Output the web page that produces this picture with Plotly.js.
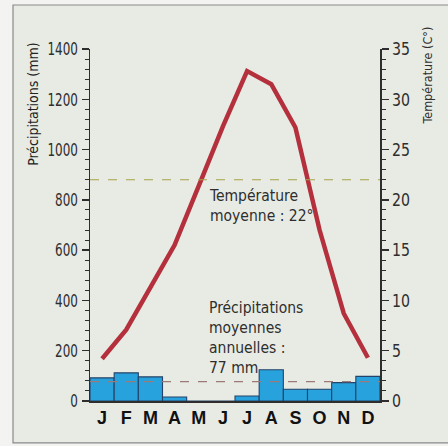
<!DOCTYPE html>
<html>
<head>
<meta charset="utf-8">
<script src="https://cdn.plot.ly/plotly-3.0.1.min.js"></script>
<style>html,body{margin:0;padding:0;background:#f3f4f1;}#chart{width:448px;height:446px;}</style>
</head>
<body>
<div id="chart"></div>
<script>
// Data
const months = ['J','F','M','A','M','J','J','A','S','O','N','D'];
const precipitation = [92, 112, 96, 16, 0, 0, 20, 124, 47, 47, 73, 98];   // mm
const temperature = [4.2, 7.1, 11.3, 15.5, 21.4, 27.3, 32.8, 31.5, 27.2, 17.0, 8.7, 4.3]; // °C
const meanTemperature = 22;
const meanPrecipitation = 77;
const precipTicks = [0, 200, 400, 600, 800, 1000, 1200, 1400];
const tempTicks = [0, 5, 10, 15, 20, 25, 30, 35];

const xIdx = months.map((m, i) => i);
const narrow = '"DejaVu Sans", sans-serif';
const ink = '#2e2e2e';

const traces = [
  {
    type: 'bar', x: xIdx, y: precipitation, yaxis: 'y', width: 1,
    marker: {color: '#27a2dc', line: {color: '#24436a', width: 1.1}},
    hoverinfo: 'skip'
  },
  {
    type: 'scatter', mode: 'lines', x: xIdx, y: temperature, yaxis: 'y2',
    line: {color: '#b5303d', width: 4.5}, hoverinfo: 'skip'
  },
  {
    type: 'scatter', mode: 'lines', x: [-0.5, 11.5], y: [meanTemperature, meanTemperature], yaxis: 'y2',
    line: {color: '#a8a24a', width: 1.2, dash: 'dash'}, hoverinfo: 'skip'
  },
  {
    type: 'scatter', mode: 'lines', x: [-0.5, 11.5], y: [meanPrecipitation, meanPrecipitation], yaxis: 'y',
    line: {color: '#9c7a78', width: 1.2, dash: 'dash'}, hoverinfo: 'skip'
  }
];

const layout = {
  width: 448, height: 446,
  margin: {l: 90, r: 68, t: 49, b: 45},
  paper_bgcolor: '#f3f4f1',
  plot_bgcolor: 'rgba(0,0,0,0)',
  showlegend: false,
  bargap: 0,
  xaxis: {
    range: [-0.5, 11.5], tickvals: xIdx, ticktext: months,
    showgrid: false, zeroline: false, showline: true, linecolor: ink, linewidth: 1.5,
    ticks: '', tickfont: {family: 'Liberation Sans, Arial, sans-serif', size: 18, color: '#111', weight: 'bold'},
    fixedrange: true
  },
  yaxis: {
    range: [0, 1400], tickvals: precipTicks, showgrid: false, zeroline: false,
    showline: true, linecolor: ink, linewidth: 1.5,
    ticks: 'outside', ticklen: 7, tickwidth: 1.5, tickcolor: ink,
    minor: {dtick: 40, ticks: 'outside', ticklen: 4, tickcolor: ink, tickwidth: 1},
    tickfont: {family: narrow, size: 18, color: ink}
  },
  yaxis2: {
    range: [0, 35], tickvals: tempTicks, overlaying: 'y', side: 'right',
    showgrid: false, zeroline: false, showline: true, linecolor: ink, linewidth: 1.5,
    ticks: 'outside', ticklen: 7, tickwidth: 1.5, tickcolor: ink,
    minor: {dtick: 1, ticks: 'outside', ticklen: 4, tickcolor: ink, tickwidth: 1},
    tickfont: {family: narrow, size: 18, color: ink}
  },
  shapes: [
    {type: 'rect', xref: 'paper', yref: 'paper', x0: -0.2655, x1: 1.35, y0: -0.119, y1: 1.125,
     fillcolor: '#e7ebe4', line: {color: '#8a8a8a', width: 1.2}, layer: 'below'}
  ],
  annotations: [
    {xref: 'paper', yref: 'paper', x: -0.197, y: 0.844, text: 'Précipitations (mm)', textangle: -90,
     showarrow: false, font: {family: narrow, size: 14, color: '#222'}, xanchor: 'center', yanchor: 'middle'},
    {xref: 'paper', yref: 'paper', x: 1.162, y: 0.926, text: 'Température (C°)', textangle: -90,
     showarrow: false, font: {family: narrow, size: 12.5, color: ink}, xanchor: 'center', yanchor: 'middle'},
    {xref: 'paper', yref: 'paper', x: 0.403, y: 0.615, xanchor: 'left', yanchor: 'top', align: 'left',
     text: 'Température<br>moyenne : 22°', showarrow: false,
     font: {family: narrow, size: 15.5, color: ink}},
    {xref: 'paper', yref: 'paper', x: 0.403, y: 0.295, xanchor: 'left', yanchor: 'top', align: 'left',
     text: 'Précipitations<br>moyennes<br>annuelles :<br>77 mm', showarrow: false,
     font: {family: narrow, size: 15.5, color: ink}}
  ]
};

Plotly.newPlot('chart', traces, layout, {staticPlot: true, displayModeBar: false}).then(gd => {
  gd.querySelectorAll('.annotation-text').forEach(el => {
    el.style.fontStretch = 'condensed';
  });
  // narrow (condensed-looking) tick numbers
  gd.querySelectorAll('.ytick text').forEach(el => {
    el.style.fontStretch = 'condensed';
    el.setAttribute('lengthAdjust', 'spacingAndGlyphs');
    el.setAttribute('textLength', (el.textContent.length * 7.6).toFixed(1));
  });
  gd.querySelectorAll('.y2tick text').forEach(el => {
    el.style.fontStretch = 'condensed';
    el.setAttribute('lengthAdjust', 'spacingAndGlyphs');
    el.setAttribute('textLength', (el.textContent.length * 9.0).toFixed(1));
  });
});
</script>
</body>
</html>
